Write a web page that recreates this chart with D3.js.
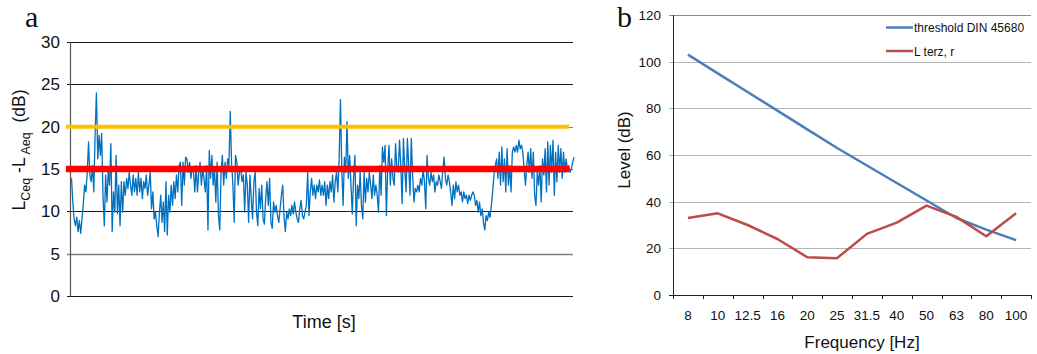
<!DOCTYPE html>
<html>
<head>
<meta charset="utf-8">
<script src="https://cdn.jsdelivr.net/npm/d3@7"></script>
<style>
  body { margin: 0; background: #fff; }
  svg { display: block; font-family: "Liberation Sans", Arial, sans-serif; }
</style>
</head>
<body>
<svg id="chart" width="1037" height="354"></svg>
<script>
// panel a: L_Ceq - L_Aeq over time (dB)
const levelDiff = [
  13.9, 11.1, 9.1, 8.3, 9.3, 7.6, 8.9, 7.4, 9.1, 10.9, 13.1, 12.3, 14.6, 18.2, 14.3, 13.5, 15.4, 12.3, 19.2, 24.0,
  16.2, 19.0, 16.6, 19.2, 11.9, 8.3, 14.3, 11.1, 14.8, 13.1, 18.0, 7.6, 12.3, 9.9, 16.6, 9.7, 13.1, 8.3, 13.5, 9.9,
  13.5, 11.9, 13.9, 12.7, 14.6, 13.1, 11.9, 14.3, 12.3, 13.9, 11.9, 14.6, 12.3, 13.9, 11.5, 13.5, 12.7, 14.3, 11.9, 13.1,
  14.6, 10.3, 12.3, 9.1, 9.9, 8.3, 7.0, 9.9, 11.9, 8.7, 11.1, 7.6, 13.5, 7.2, 11.9, 9.9, 13.1, 10.7, 13.5, 11.5,
  14.3, 12.3, 15.4, 15.8, 10.7, 15.8, 13.1, 16.4, 16.2, 14.6, 15.8, 13.9, 15.2, 14.6, 12.3, 15.4, 12.3, 14.6,
  15.8, 13.1, 15.0, 13.9, 12.3, 15.4, 7.8, 17.2, 13.9, 16.6, 13.1, 15.0, 11.1, 15.8, 9.5, 7.8, 14.6, 16.6, 13.1, 15.8,
  13.9, 16.2, 15.4, 21.8, 15.8, 13.1, 8.7, 16.6, 15.8, 13.1, 14.6, 15.0, 13.5, 14.3, 9.9, 14.6, 13.1, 8.7, 14.3, 11.5,
  9.1, 13.5, 14.6, 9.9, 8.3, 12.7, 10.3, 13.1, 9.1, 8.5, 11.5, 13.5, 10.7, 13.9, 8.7, 8.0, 11.1, 9.9, 10.7, 9.5,
  8.7, 10.3, 11.9, 13.1, 9.3, 7.6, 9.9, 9.1, 10.3, 9.5, 10.7, 9.7, 11.1, 9.9, 9.1, 8.7, 10.3, 11.3, 9.5, 9.1,
  9.9, 10.7, 14.6, 9.5, 12.3, 13.9, 11.9, 13.1, 11.5, 13.1, 12.3, 13.7, 11.9, 13.1,
  11.9, 13.5, 10.7, 13.1, 11.5, 13.5, 12.3, 14.3, 11.1, 13.5, 14.6, 12.3, 16.2, 23.2, 15.0, 10.7, 16.4, 14.6, 20.6, 13.9,
  16.6, 13.1, 9.7, 13.9, 16.6, 8.3, 13.1, 11.5, 14.6, 10.7, 9.1, 14.6, 11.1, 13.9, 12.3, 14.6, 13.1, 11.5, 14.3, 11.9,
  13.1, 11.9, 9.9, 15.4, 11.9, 17.6, 15.8, 17.8, 9.5, 15.0, 17.8, 13.1, 16.2, 13.9, 13.1, 18.0, 15.0, 14.6, 18.4, 15.4,
  10.9, 18.6, 15.0, 12.3, 18.6, 15.4, 11.9, 18.6, 14.3, 11.1, 12.7, 12.3, 13.1, 12.3, 13.9, 13.1, 15.0, 13.5, 10.3, 16.6,
  13.9, 13.1, 14.6, 13.5, 14.3, 12.3, 13.5, 13.1, 14.3, 13.5, 12.7, 15.0, 16.4, 13.9, 13.1, 14.3,
  13.5, 12.3, 10.7, 13.1, 11.5, 13.5, 12.3, 13.1, 11.9, 12.3, 11.1, 12.3, 11.5, 11.9, 10.9, 11.9, 11.3, 11.9, 12.3, 11.9,
  10.7, 11.3, 9.9, 11.1, 9.5, 10.3, 8.7, 7.8, 9.5, 8.9, 9.9, 9.3, 10.7, 12.3, 14.3, 15.4, 16.2, 13.9, 17.0, 13.1,
  17.6, 13.5, 16.2, 12.3, 17.4, 13.1, 15.4, 12.3, 17.0, 17.6, 17.0, 17.8, 17.0, 18.4, 17.4, 17.8, 17.0, 15.0, 13.1, 15.4,
  17.0, 14.6, 17.4, 13.9, 17.0, 11.9, 10.7, 14.6, 13.1, 15.4, 11.1, 16.2, 14.3, 17.4, 12.3, 18.2, 13.1, 17.8, 14.6, 18.4,
  11.9, 17.0, 13.5, 17.8, 14.6, 17.4, 13.9, 17.0, 14.6, 16.2, 15.0, 15.4, 14.6, 15.0, 15.8, 16.4
];
const yTicksA = [0, 5, 10, 15, 20, 25, 30];
const limitValues = [20, 15];

// panel b: third-octave levels
const freqLabels = ['8', '10', '12.5', '16', '20', '25', '31.5', '40', '50', '63', '80', '100'];
const thresholdDin = [103, 95, 87, 79, 71, 63, 55.5, 48, 40.5, 33, 28, 23.5];
const lTerz = [33, 35, 30, 24, 16.2, 15.8, 26.2, 31, 38.3, 33.5, 25.2, 35];
const yTicksB = [0, 20, 40, 60, 80, 100, 120];
const legendNames = ['threshold DIN 45680', 'L terz, r'];

const svg = d3.select('#chart');

// ---------- panel a ----------
const xA = d3.scaleLinear().domain([0, levelDiff.length - 1]).range([71.5, 574]);
const yA = d3.scaleLinear().domain([0, 30]).range([296, 42]);

const gA = svg.append('g');

gA.selectAll('line.grid')
  .data(yTicksA)
  .join('line')
  .attr('class', 'grid')
  .attr('x1', 67)
  .attr('x2', 573)
  .attr('y1', d => Math.round(yA(d)) + 0.5)
  .attr('y2', d => Math.round(yA(d)) + 0.5)
  .attr('stroke', d => (d === 5 || d === 20 || d === 15 ? '#808080' : '#1a1a1a'))
  .attr('stroke-width', d => (d === 5 ? 1.6 : 1.1));

gA.append('line')
  .attr('x1', 70.5).attr('x2', 70.5)
  .attr('y1', yA(30)).attr('y2', yA(0))
  .attr('stroke', '#555').attr('stroke-width', 1.2);

gA.selectAll('text.tick')
  .data(yTicksA)
  .join('text')
  .attr('class', 'tick')
  .attr('x', 60)
  .attr('y', d => yA(d) + 6)
  .attr('text-anchor', 'end')
  .attr('font-size', 17)
  .attr('fill', '#111')
  .text(d => d);

const lineA = d3.line().x((d, i) => xA(i)).y(d => yA(d));

gA.append('path')
  .datum(levelDiff)
  .attr('d', lineA)
  .attr('fill', 'none')
  .attr('stroke', '#0070c0')
  .attr('stroke-width', 1.3)
  .attr('stroke-linejoin', 'round');

const limitColors = ['#ffc000', '#ff0000'];
const limitWidths = [4, 6.5];
gA.selectAll('line.limit')
  .data(limitValues)
  .join('line')
  .attr('class', 'limit')
  .attr('x1', 66)
  .attr('x2', 569)
  .attr('y1', d => yA(d))
  .attr('y2', d => yA(d))
  .attr('stroke', (d, i) => limitColors[i])
  .attr('stroke-width', (d, i) => limitWidths[i]);

gA.append('text')
  .attr('x', 324).attr('y', 328)
  .attr('text-anchor', 'middle')
  .attr('font-size', 18)
  .attr('fill', '#111')
  .text('Time [s]');

const yLabA = gA.append('text')
  .attr('transform', 'translate(25,150) rotate(-90)')
  .attr('text-anchor', 'middle')
  .attr('font-size', 17.5)
  .attr('fill', '#111');
yLabA.append('tspan').text('L');
yLabA.append('tspan').attr('font-size', 12.5).attr('dy', 5).text('Ceq');
yLabA.append('tspan').attr('dy', -5).text(' -L');
yLabA.append('tspan').attr('font-size', 12.5).attr('dy', 5).text(' Aeq');
yLabA.append('tspan').attr('dy', -5).attr('xml:space', 'preserve').text('\u00a0\u00a0(dB)');

gA.append('text')
  .attr('x', 25).attr('y', 27)
  .attr('font-family', '"Liberation Serif", "Times New Roman", serif')
  .attr('font-size', 30)
  .attr('fill', '#111')
  .text('a');

// ---------- panel b ----------
const xB = d3.scaleBand().domain(freqLabels).range([673, 1031]).padding(0);
const yB = d3.scaleLinear().domain([0, 120]).range([295, 15]);
const cx = d => xB(d) + xB.bandwidth() / 2;

const gB = svg.append('g');

gB.selectAll('line.grid')
  .data(yTicksB.filter(d => d > 0))
  .join('line')
  .attr('class', 'grid')
  .attr('x1', 669)
  .attr('x2', 1031)
  .attr('y1', d => Math.round(yB(d)) + 0.5)
  .attr('y2', d => Math.round(yB(d)) + 0.5)
  .attr('stroke', d => (d === 120 ? '#8c8c8c' : '#b5b5b5'))
  .attr('stroke-width', 1);

gB.append('line')
  .attr('x1', 673.5).attr('x2', 673.5)
  .attr('y1', yB(120)).attr('y2', yB(0))
  .attr('stroke', '#222');

gB.append('line')
  .attr('x1', 669).attr('x2', 1031)
  .attr('y1', yB(0) + 0.5).attr('y2', yB(0) + 0.5)
  .attr('stroke', '#222');

const bandEdges = freqLabels.map(d => xB(d)).concat([xB.range()[1]]);
gB.selectAll('line.xtick')
  .data(bandEdges)
  .join('line')
  .attr('class', 'xtick')
  .attr('x1', d => Math.round(d) + 0.5)
  .attr('x2', d => Math.round(d) + 0.5)
  .attr('y1', yB(0))
  .attr('y2', yB(0) + 4)
  .attr('stroke', '#222');

gB.selectAll('text.ytick')
  .data(yTicksB)
  .join('text')
  .attr('class', 'ytick')
  .attr('x', 661)
  .attr('y', d => yB(d) + 5)
  .attr('text-anchor', 'end')
  .attr('font-size', 13.5)
  .attr('fill', '#111')
  .text(d => d);

gB.selectAll('text.xlab')
  .data(freqLabels)
  .join('text')
  .attr('class', 'xlab')
  .attr('x', cx)
  .attr('y', 320)
  .attr('text-anchor', 'middle')
  .attr('font-size', 13.5)
  .attr('fill', '#111')
  .text(d => d);

const seriesB = [thresholdDin, lTerz];
const seriesColors = ['#4a7ebb', '#be4b48'];
const lineB = d3.line().x((d, i) => cx(freqLabels[i])).y(d => yB(d));

gB.selectAll('path.series')
  .data(seriesB)
  .join('path')
  .attr('class', 'series')
  .attr('d', lineB)
  .attr('fill', 'none')
  .attr('stroke', (d, i) => seriesColors[i])
  .attr('stroke-width', 2.5)
  .attr('stroke-linejoin', 'round');

const legend = gB.selectAll('g.legend')
  .data(legendNames)
  .join('g')
  .attr('class', 'legend')
  .attr('transform', (d, i) => `translate(886,${27.5 + i * 23.5})`);
legend.append('line')
  .attr('x1', 0).attr('x2', 27)
  .attr('stroke', (d, i) => seriesColors[i])
  .attr('stroke-width', 2.5);
legend.append('text')
  .attr('x', 28).attr('y', 4.5)
  .attr('font-size', 12)
  .attr('fill', '#111')
  .text(d => d);

gB.append('text')
  .attr('x', 862).attr('y', 348)
  .attr('text-anchor', 'middle')
  .attr('font-size', 17)
  .attr('fill', '#111')
  .text('Frequency [Hz]');

gB.append('text')
  .attr('transform', 'translate(630,150) rotate(-90)')
  .attr('text-anchor', 'middle')
  .attr('font-size', 17)
  .attr('fill', '#111')
  .text('Level (dB)');

gB.append('text')
  .attr('x', 617).attr('y', 27)
  .attr('font-family', '"Liberation Serif", "Times New Roman", serif')
  .attr('font-size', 30)
  .attr('fill', '#111')
  .text('b');
</script>
</body>
</html>
